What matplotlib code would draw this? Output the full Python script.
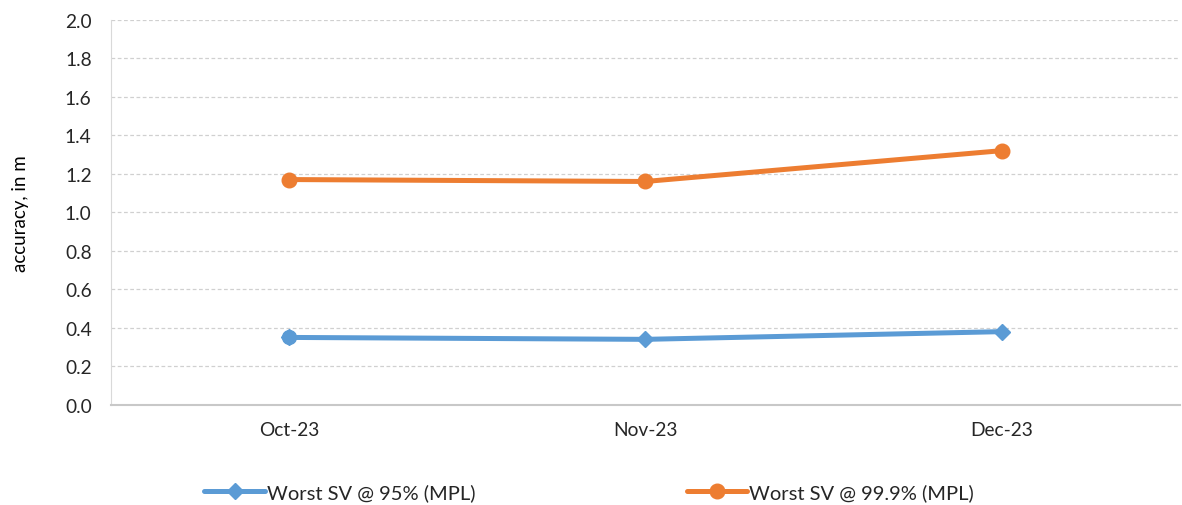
import matplotlib.pyplot as plt

plt.rcParams['font.family'] = ['Lato', 'DejaVu Sans']

months = ["Oct-23", "Nov-23", "Dec-23"]
sv95 = [0.35, 0.34, 0.38]
sv999 = [1.17, 1.16, 1.32]
y_ticks = [0.0, 0.2, 0.4, 0.6, 0.8, 1.0, 1.2, 1.4, 1.6, 1.8, 2.0]

blue = "#5b9bd5"
orange = "#ed7d31"
text_col = "#262626"

fig = plt.figure(figsize=(11.82, 5.06), dpi=100)
ax = fig.add_axes([0.094, 0.198, 0.904, 0.761])

x = list(range(len(months)))
ax.plot(x, sv95, color=blue, lw=3.6, marker="D", ms=8, solid_capstyle="round",
        label="Worst SV @ 95% (MPL)")
# first point of this series uses a round marker
ax.plot(x[0], sv95[0], color=blue, marker="o", ms=10, ls="none")
ax.plot(x, sv999, color=orange, lw=3.6, marker="o", ms=10.5, solid_capstyle="round",
        label="Worst SV @ 99.9% (MPL)")

ax.set_xlim(-0.5, 2.5)
ax.set_ylim(0, 2.0)
ax.set_yticks(y_ticks)
ax.set_yticklabels([f"{v:.1f}" for v in y_ticks])
ax.set_xticks(x)
ax.set_xticklabels(months)
ax.tick_params(axis="both", length=0, labelsize=13.8, colors=text_col)
ax.tick_params(axis="x", pad=12)
ax.tick_params(axis="y", pad=14)

ax.grid(axis="y", color="#d0d0d0", ls=(0, (3, 2)), lw=0.9)
ax.set_axisbelow(True)
for s in ["top", "right"]:
    ax.spines[s].set_visible(False)
ax.spines["left"].set_color("#d9d9d9")
ax.spines["bottom"].set_color("#c8c8c8")
ax.spines["bottom"].set_linewidth(1.5)

ax.set_ylabel("accuracy, in m", fontsize=13.5, color="black", labelpad=26)

fig.legend(loc="center left", bbox_to_anchor=(0.173, 13 / 506), ncol=2, frameon=False,
           fontsize=14.5, handlelength=3.0, handletextpad=0.1, columnspacing=10.5,
           borderpad=0, borderaxespad=0, labelcolor=text_col)

fig.savefig("out.png", dpi=100)
